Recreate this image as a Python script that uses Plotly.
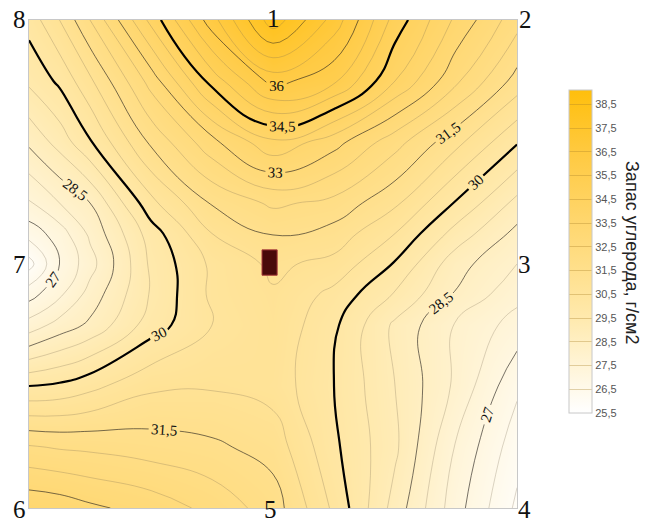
import plotly.graph_objects as go

# Sampling grid across the plot square (0..1 in both directions); denser near station 7
grid_x = [0.0, 0.0625, 0.125, 0.25, 0.375, 0.5, 0.625, 0.75, 0.875, 1.0]
grid_y_top_down = [1.0, 0.875, 0.75, 0.625, 0.5625, 0.5, 0.4375, 0.375, 0.25, 0.125, 0.0]

# Carbon stock, g/cm2, rows listed from the top edge (8-1-2) to the bottom edge (6-5-4)
row_0 = [30.2, 31.0, 32.0, 34.15, 36.3, 38.3, 36.8, 34.8, 33.4, 32.2]
row_1 = [29.6, 30.1, 30.9, 32.7, 34.7, 36.2, 35.6, 34.0, 32.6, 31.3]
row_2 = [28.6, 29.2, 29.95, 31.6, 32.85, 33.9, 33.2, 32.2, 31.15, 30.05]
row_3 = [27.45, 28.0, 28.5, 30.35, 31.55, 32.1, 31.85, 31.1, 29.95, 28.85]
row_4 = [26.7, 27.25, 28.1, 29.75, 31.0, 31.52, 31.3, 30.5, 29.3, 28.35]
row_5 = [25.8, 27.0, 27.8, 29.6, 30.6, 31.1, 30.85, 29.95, 28.7, 28.0]
row_6 = [26.8, 27.4, 28.2, 29.55, 30.6, 30.95, 30.35, 29.45, 28.45, 27.65]
row_7 = [27.7, 28.2, 28.6, 29.75, 30.5, 30.9, 30.1, 28.9, 27.95, 27.3]
row_8 = [30.0, 30.1, 30.35, 30.9, 30.95, 30.8, 30.0, 29.0, 27.9, 26.6]
row_9 = [32.05, 31.95, 31.9, 31.75, 31.6, 31.3, 30.1, 29.1, 27.45, 26.2]
row_10 = [33.4, 33.3, 33.1, 32.8, 32.35, 31.75, 30.4, 28.8, 27.2, 25.9]

# Sampling stations around the square and the central plot
station_names = ["1", "2", "3", "4", "5", "6", "7", "8"]
station_x = [0.5, 1.0, 1.0, 1.0, 0.5, 0.0, 0.0, 0.0]
station_y = [1.0, 1.0, 0.5, 0.0, 0.0, 0.0, 0.5, 1.0]
center_x, center_y = 0.493, 0.503

colorbar_ticks = [25.5 + i for i in range(14)]
bar_title = "Запас углерода, г/см2"

rows = [row_0, row_1, row_2, row_3, row_4, row_5, row_6, row_7, row_8, row_9, row_10]
z = rows[::-1]
y = grid_y_top_down[::-1]

scale = [
    [0.0, "#FFFFFF"],
    [0.15, "#FFF4D6"],
    [0.3, "#FFE9AC"],
    [0.45, "#FFDF8A"],
    [0.6, "#FFD66C"],
    [0.8, "#FFCA42"],
    [1.0, "#FFBF0C"],
]

fig = go.Figure()

# smooth colour field
fig.add_trace(go.Contour(
    x=grid_x, y=y, z=z,
    zmin=25.5, zmax=39.1,
    colorscale=scale,
    contours=dict(coloring="heatmap", start=20, end=20.1, size=50, showlines=False),
    line=dict(width=0),
    colorbar=dict(
        x=(569 - 29) / 488, xanchor="left",
        y=1 - (251.5 - 20) / 488, yanchor="middle",
        len=323, lenmode="pixels",
        thickness=23, thicknessmode="pixels",
        xpad=0, ypad=0,
        outlinecolor="#c8c8c8", outlinewidth=1,
        tickvals=colorbar_ticks, tickformat=".1f",
        ticks="inside", ticklen=23, tickcolor="rgba(170,130,40,0.35)", tickwidth=1,
        tickfont=dict(family="Liberation Sans", size=11, color="#555555"),
    ),
    hoverinfo="skip",
))


def line_trace(start, end, step, color, width, labels):
    return go.Contour(
        x=grid_x, y=y, z=z,
        showscale=False,
        contours=dict(coloring="lines", start=start, end=end, size=step,
                      showlabels=labels, labelformat=".1~f",
                      labelfont=dict(family="Liberation Serif", size=15, color="#111111")),
        colorscale=[[0, color], [1, color]],
        line=dict(width=width, smoothing=1.3),
        hoverinfo="skip",
    )


# minor isolines every 0.5
fig.add_trace(line_trace(26.0, 38.0, 1.5, "rgba(120,105,80,0.35)", 0.8, False))
fig.add_trace(line_trace(26.5, 38.0, 1.5, "rgba(120,105,80,0.35)", 0.8, False))
# labelled isolines
fig.add_trace(line_trace(27.0, 28.5, 1.5, "rgba(40,35,30,0.8)", 0.8, True))
fig.add_trace(line_trace(31.5, 33.0, 1.5, "rgba(40,35,30,0.8)", 0.8, True))
fig.add_trace(line_trace(36.0, 36.0, 1.5, "rgba(40,35,30,0.8)", 0.8, True))
fig.add_trace(line_trace(37.5, 37.5, 1.5, "rgba(40,35,30,0.6)", 0.8, False))
# bold isolines
fig.add_trace(line_trace(30.0, 34.5, 4.5, "#000000", 2.2, True))

# central plot marker
fig.add_shape(type="rect", xref="x", yref="y",
              x0=center_x - 0.0155, x1=center_x + 0.0155,
              y0=center_y - 0.026, y1=center_y + 0.026,
              fillcolor="#4A0A0A", line=dict(color="#A83A3A", width=1), layer="above")

# station numbers
shifts = {"1": (0, 2), "2": (8, 1), "3": (7, 0), "4": (7, -1),
          "5": (-3, -1), "6": (-10, -1), "7": (-10, 0), "8": (-10, 1)}
for name, sx, sy in zip(station_names, station_x, station_y):
    dx, dy = shifts[name]
    fig.add_annotation(x=sx, y=sy, xref="x", yref="y", text=name, showarrow=False,
                       xshift=dx, yshift=dy, xanchor="center", yanchor="middle",
                       font=dict(family="Liberation Serif", size=25, color="#111111"))

fig.add_annotation(x=(632 - 29) / 488, y=1 - (252 - 20) / 488, xref="paper", yref="paper",
                   text=bar_title, textangle=90, showarrow=False,
                   xanchor="center", yanchor="middle",
                   font=dict(family="Liberation Sans", size=18, color="#222222"))

fig.update_xaxes(range=[0, 1], showgrid=False, zeroline=False, showticklabels=False,
                 ticks="", showline=True, mirror=True, linecolor="#c8c8c8", linewidth=1)
fig.update_yaxes(range=[0, 1], showgrid=False, zeroline=False, showticklabels=False,
                 ticks="", showline=True, mirror=True, linecolor="#c8c8c8", linewidth=1)

fig.update_layout(
    width=654, height=524,
    margin=dict(l=29, r=137, t=20, b=16),
    paper_bgcolor="white", plot_bgcolor="white",
    separators=", ",
    showlegend=False,
)

fig.write_html("out.html")
